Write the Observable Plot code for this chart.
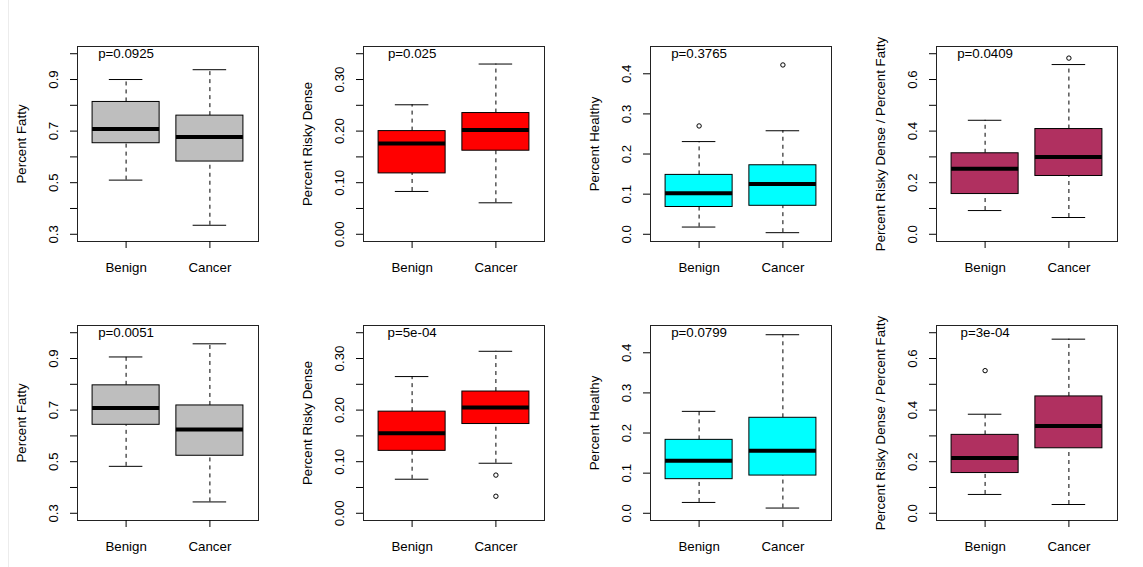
<!DOCTYPE html>
<html>
<head>
<meta charset="utf-8">
<script src="https://cdn.jsdelivr.net/npm/d3@7"></script>
<script src="https://cdn.jsdelivr.net/npm/@observablehq/plot@0.6"></script>
<style>
  html, body { margin: 0; padding: 0; background: #fff; }
  #wrap { position: relative; width: 1143px; height: 567px; overflow: hidden; background: #fff; }
  #edge { position: absolute; left: 8px; top: 0; width: 0; height: 567px; border-left: 1px solid #ececec; }
  .cell { position: absolute; width: 286px; height: 280px; }
  .cell svg { max-width: none !important; }
</style>
</head>
<body>
<div id="wrap"><div id="edge"></div></div>
<script>
// ---- data ----
const groups = ["Benign", "Cancer"];
const measures = ["Percent Fatty", "Percent Risky Dense", "Percent Healthy", "Percent Risky Dense / Percent Fatty"];
const yLimits = [[0.3, 1.0], [0, 0.35], [0, 0.45], [0, 0.7]];
const tickValues = [
  [0.3, 0.4, 0.5, 0.6, 0.7, 0.8, 0.9, 1.0],
  [0, 0.05, 0.10, 0.15, 0.20, 0.25, 0.30, 0.35],
  [0, 0.1, 0.2, 0.3, 0.4],
  [0, 0.1, 0.2, 0.3, 0.4, 0.5, 0.6, 0.7]
];
const tickLabels = [
  [0.3, 0.5, 0.7, 0.9],
  [0, 0.10, 0.20, 0.30],
  [0, 0.1, 0.2, 0.3, 0.4],
  [0, 0.2, 0.4, 0.6]
];
const labelDecimals = [1, 2, 1, 1];
const pTexts = ["p=0.0925", "p=0.025", "p=0.3765", "p=0.0409", "p=0.0051", "p=5e-04", "p=0.0799", "p=3e-04"];

// [lower whisker, Q1, median, Q3, upper whisker] for Benign, Cancer
const row1Fatty   = [[0.510, 0.653, 0.708, 0.813, 0.900], [0.335, 0.582, 0.677, 0.760, 0.938]];
const row1Dense   = [[0.083, 0.118, 0.176, 0.200, 0.251], [0.061, 0.162, 0.202, 0.235, 0.330]];
const row1Healthy = [[0.018, 0.068, 0.102, 0.148, 0.231], [0.004, 0.071, 0.125, 0.172, 0.258]];
const row1Ratio   = [[0.092, 0.156, 0.254, 0.314, 0.442], [0.065, 0.226, 0.300, 0.408, 0.658]];
const row2Fatty   = [[0.482, 0.643, 0.708, 0.796, 0.906], [0.344, 0.523, 0.625, 0.718, 0.957]];
const row2Dense   = [[0.066, 0.121, 0.155, 0.197, 0.265], [0.097, 0.173, 0.205, 0.236, 0.314]];
const row2Healthy = [[0.027, 0.085, 0.131, 0.183, 0.254], [0.013, 0.094, 0.156, 0.238, 0.445]];
const row2Ratio   = [[0.073, 0.156, 0.214, 0.304, 0.384], [0.034, 0.252, 0.338, 0.453, 0.675]];

// outliers: [group, value]
const row1Outliers = [[], [], [["Benign", 0.270], ["Cancer", 0.422]], [["Cancer", 0.683]]];
const row2Outliers = [[], [["Cancer", 0.074], ["Cancer", 0.033]], [], [["Benign", 0.553]]];

// ---- styles ----
const fills = ["#bebebe", "#ff0000", "#00ffff", "#b03060"];
const FONT = "'Liberation Sans', Arial, Helvetica, sans-serif";
const FS = 13.3;

const panels = [
  {row: 0, col: 0, stats: row1Fatty,   outs: row1Outliers[0]},
  {row: 0, col: 1, stats: row1Dense,   outs: row1Outliers[1]},
  {row: 0, col: 2, stats: row1Healthy, outs: row1Outliers[2]},
  {row: 0, col: 3, stats: row1Ratio,   outs: row1Outliers[3]},
  {row: 1, col: 0, stats: row2Fatty,   outs: row2Outliers[0]},
  {row: 1, col: 1, stats: row2Dense,   outs: row2Outliers[1]},
  {row: 1, col: 2, stats: row2Healthy, outs: row2Outliers[2]},
  {row: 1, col: 3, stats: row2Ratio,   outs: row2Outliers[3]}
];

const wrap = document.getElementById("wrap");

panels.forEach((p, k) => {
  const m = p.col;
  const [lo, hi] = yLimits[m];
  const ext = (hi - lo) * 0.04;
  const boxes = groups.map((g, i) => {
    const s = p.stats[i];
    return {group: g, pos: i + 1, lo: s[0], q1: s[1], med: s[2], q3: s[3], hi: s[4]};
  });
  const outs = p.outs.map(([g, v]) => ({pos: groups.indexOf(g) + 1, value: v}));
  const dec = labelDecimals[m];

  const chart = Plot.plot({
    width: 286,
    height: 280,
    marginLeft: 77,
    marginRight: 28,
    marginTop: 46,
    marginBottom: 39,
    style: {fontSize: FS + "px", fontFamily: FONT, background: "transparent", overflow: "visible", color: "#000", maxWidth: "none"},
    x: {type: "linear", domain: [0.42, 2.58]},
    y: {domain: [lo - ext, hi + ext]},
    marks: [
      Plot.ruleX(boxes, {x: "pos", y1: "q3", y2: "hi", strokeDasharray: "4,4", strokeWidth: 1}),
      Plot.ruleX(boxes, {x: "pos", y1: "lo", y2: "q1", strokeDasharray: "4,4", strokeWidth: 1}),
      Plot.ruleY(boxes, {y: "hi", x1: d => d.pos - 0.2, x2: d => d.pos + 0.2, strokeWidth: 1}),
      Plot.ruleY(boxes, {y: "lo", x1: d => d.pos - 0.2, x2: d => d.pos + 0.2, strokeWidth: 1}),
      Plot.rect(boxes, {x1: d => d.pos - 0.4, x2: d => d.pos + 0.4, y1: "q1", y2: "q3", fill: fills[m], stroke: "#000", strokeWidth: 1}),
      Plot.ruleY(boxes, {y: "med", x1: d => d.pos - 0.4, x2: d => d.pos + 0.4, strokeWidth: 4}),
      Plot.dot(outs, {x: "pos", y: "value", r: 2.2, stroke: "#000", fill: "none", strokeWidth: 1}),
      Plot.text([pTexts[k]], {x: 1, y: hi, text: d => d, fontSize: FS}),
      Plot.frame({stroke: "#222", strokeWidth: 1}),
      Plot.axisY({ticks: tickValues[m], tickSize: 7, tickFormat: () => "", label: null}),
      Plot.text(tickLabels[m], {y: d => d, text: d => d.toFixed(dec), frameAnchor: "left", textAnchor: "middle", lineAnchor: "middle", dx: -24, rotate: -90, fontSize: FS}),
      Plot.text([measures[m]], {text: d => d, frameAnchor: "left", textAnchor: "middle", lineAnchor: "middle", dx: -56, rotate: -90, fontSize: FS}),
      Plot.axisX({ticks: [1, 2], tickFormat: d => groups[d - 1], tickSize: 7, tickPadding: 14, label: null, fontSize: FS})
    ]
  });

  const cell = document.createElement("div");
  cell.className = "cell";
  cell.style.left = Math.round(p.col * 286.3) + "px";
  cell.style.top = (p.row * 279) + "px";
  cell.appendChild(chart);
  wrap.appendChild(cell);
});
</script>
</body>
</html>
